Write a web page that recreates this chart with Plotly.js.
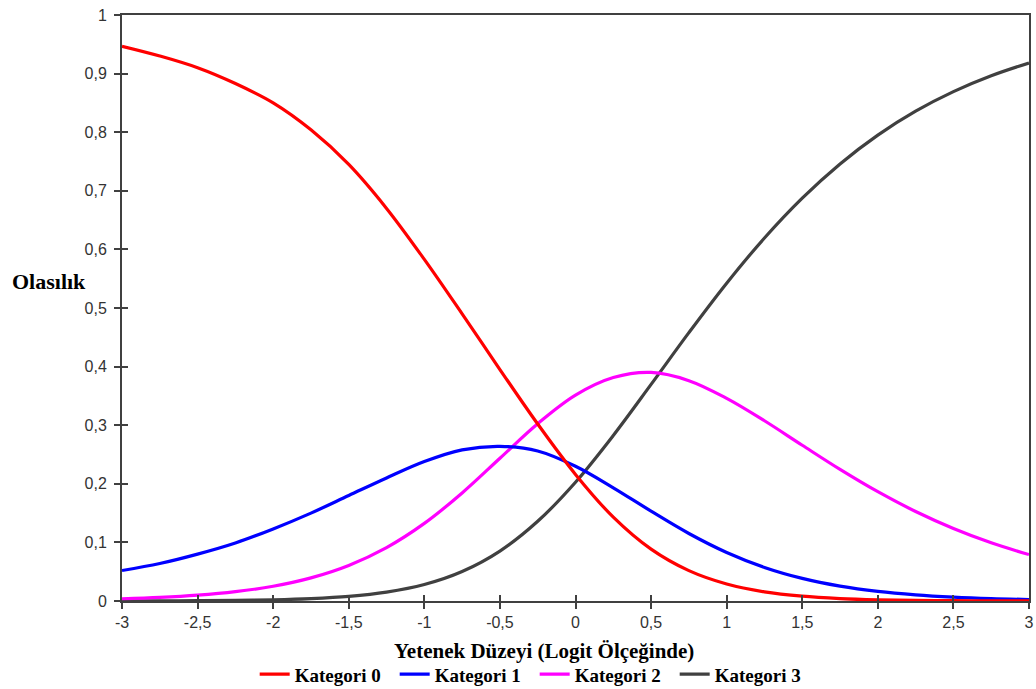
<!DOCTYPE html>
<html>
<head>
<meta charset="utf-8">
<script src="https://cdn.plot.ly/plotly-3.0.1.min.js"></script>
<style>html,body{margin:0;padding:0;background:#fff;}#chart{width:1036px;height:689px;}</style>
</head>
<body>
<div id="chart"></div>
<script>
// Ability level (logit scale)
const theta = [-3,-2.75,-2.5,-2.25,-2,-1.75,-1.5,-1.25,-1,-0.75,-0.5,-0.25,0,0.25,0.5,0.75,1,1.25,1.5,1.75,2,2.25,2.5,2.75,3];
const kategori0 = [0.9466,0.9300,0.9100,0.8830,0.8500,0.8040,0.7450,0.6700,0.5830,0.4900,0.3950,0.3020,0.2160,0.1431,0.0885,0.0518,0.0290,0.0156,0.0082,0.0042,0.0021,0.0010,0.0005,0.0003,0.0001];
const kategori1 = [0.0520,0.0640,0.0800,0.0990,0.1230,0.1500,0.1800,0.2100,0.2380,0.2580,0.2640,0.2560,0.2300,0.1932,0.1533,0.1152,0.0828,0.0573,0.0386,0.0254,0.0164,0.0105,0.0066,0.0041,0.0026];
const kategori2 = [0.0038,0.0061,0.0099,0.0159,0.0252,0.0395,0.0607,0.0911,0.1324,0.1844,0.2436,0.3026,0.3513,0.3813,0.3900,0.3760,0.3458,0.3076,0.2658,0.2246,0.1865,0.1527,0.1237,0.0993,0.0792];
const kategori3 = [0.0001,0.0002,0.0005,0.0010,0.0020,0.0040,0.0078,0.0151,0.0281,0.0503,0.0852,0.1360,0.2027,0.2825,0.3696,0.4580,0.5424,0.6194,0.6874,0.7458,0.7950,0.8358,0.8692,0.8963,0.9181];
const seriesNames = ["Kategori 0","Kategori 1","Kategori 2","Kategori 3"];
const seriesColors = ["#ff0000","#0000ff","#ff00ff","#404040"];
const xTickVals = [-3,-2.5,-2,-1.5,-1,-0.5,0,0.5,1,1.5,2,2.5,3];
const xTickText = ["-3","-2,5","-2","-1,5","-1","-0,5","0","0,5","1","1,5","2","2,5","3"];
const yTickVals = [0,0.1,0.2,0.3,0.4,0.5,0.6,0.7,0.8,0.9,1];
const yTickText = ["0","0,1","0,2","0,3","0,4","0,5","0,6","0,7","0,8","0,9","1"];
const xTitle = "Yetenek Düzeyi (Logit Ölçeğinde)";
const yTitle = "Olasılık";

const ys = [kategori0,kategori1,kategori2,kategori3];
const traces = [];
for (let i = 3; i >= 0; i--) {
  traces.push({x: theta, y: ys[i], name: seriesNames[i], type: 'scatter', mode: 'lines',
    line: {color: seriesColors[i], width: 3.2, shape: 'spline', smoothing: 1}});
}
const tickFont = {family: 'Liberation Sans, Arial, sans-serif', size: 16, color: '#333'};
const serif = 'Liberation Serif, Times New Roman, serif';
const axisCommon = {showgrid: false, zeroline: false, showline: true, linecolor: '#404040', linewidth: 2,
  ticks: 'outside', ticklen: 6, tickwidth: 2, tickcolor: '#404040', tickfont: tickFont};
const layout = {
  width: 1036, height: 689,
  margin: {l: 122, r: 7, t: 15, b: 88, autoexpand: false},
  paper_bgcolor: '#fff', plot_bgcolor: '#fff',
  showlegend: true,
  legend: {orientation: 'h', traceorder: 'reversed', x: 0.455, xanchor: 'center', y: -0.125, yanchor: 'middle',
    font: {family: serif, size: 19, color: '#000', weight: 'bold'},
    itemwidth: 30, entrywidth: 95, bgcolor: 'rgba(0,0,0,0)'},
  xaxis: Object.assign({}, axisCommon, {range: [-3, 3], tickvals: xTickVals, ticktext: xTickText, mirror: true}),
  yaxis: Object.assign({}, axisCommon, {range: [0, 1], tickvals: yTickVals, ticktext: yTickText, mirror: true, ticklabelstandoff: 4}),
  xaxis2: {overlaying: 'x', anchor: 'y', side: 'bottom', range: [-3, 3], tickvals: xTickVals, showticklabels: false,
    ticks: 'inside', ticklen: 6, tickwidth: 2, tickcolor: '#404040', showgrid: false, zeroline: false, showline: false},
  yaxis2: {overlaying: 'y', anchor: 'x', side: 'left', range: [0, 1], tickvals: yTickVals, showticklabels: false,
    ticks: 'inside', ticklen: 6, tickwidth: 2, tickcolor: '#404040', showgrid: false, zeroline: false, showline: false},
  annotations: [
    {text: '<b>' + xTitle + '</b>', xref: 'paper', yref: 'paper', x: 0.465, y: -0.085, xanchor: 'center', yanchor: 'middle',
      showarrow: false, font: {family: serif, size: 21, color: '#000'}},
    {text: '<b>' + yTitle + '</b>', xref: 'paper', yref: 'paper', x: -0.123, y: 0.546, xanchor: 'left', yanchor: 'middle',
      showarrow: false, font: {family: serif, size: 22, color: '#000'}}
  ]
};
traces.push({x: [null], y: [null], xaxis: 'x2', yaxis: 'y2', showlegend: false, hoverinfo: 'skip', type: 'scatter', mode: 'lines'});
Plotly.newPlot('chart', traces, layout, {displayModeBar: false, staticPlot: true});
</script>
</body>
</html>
